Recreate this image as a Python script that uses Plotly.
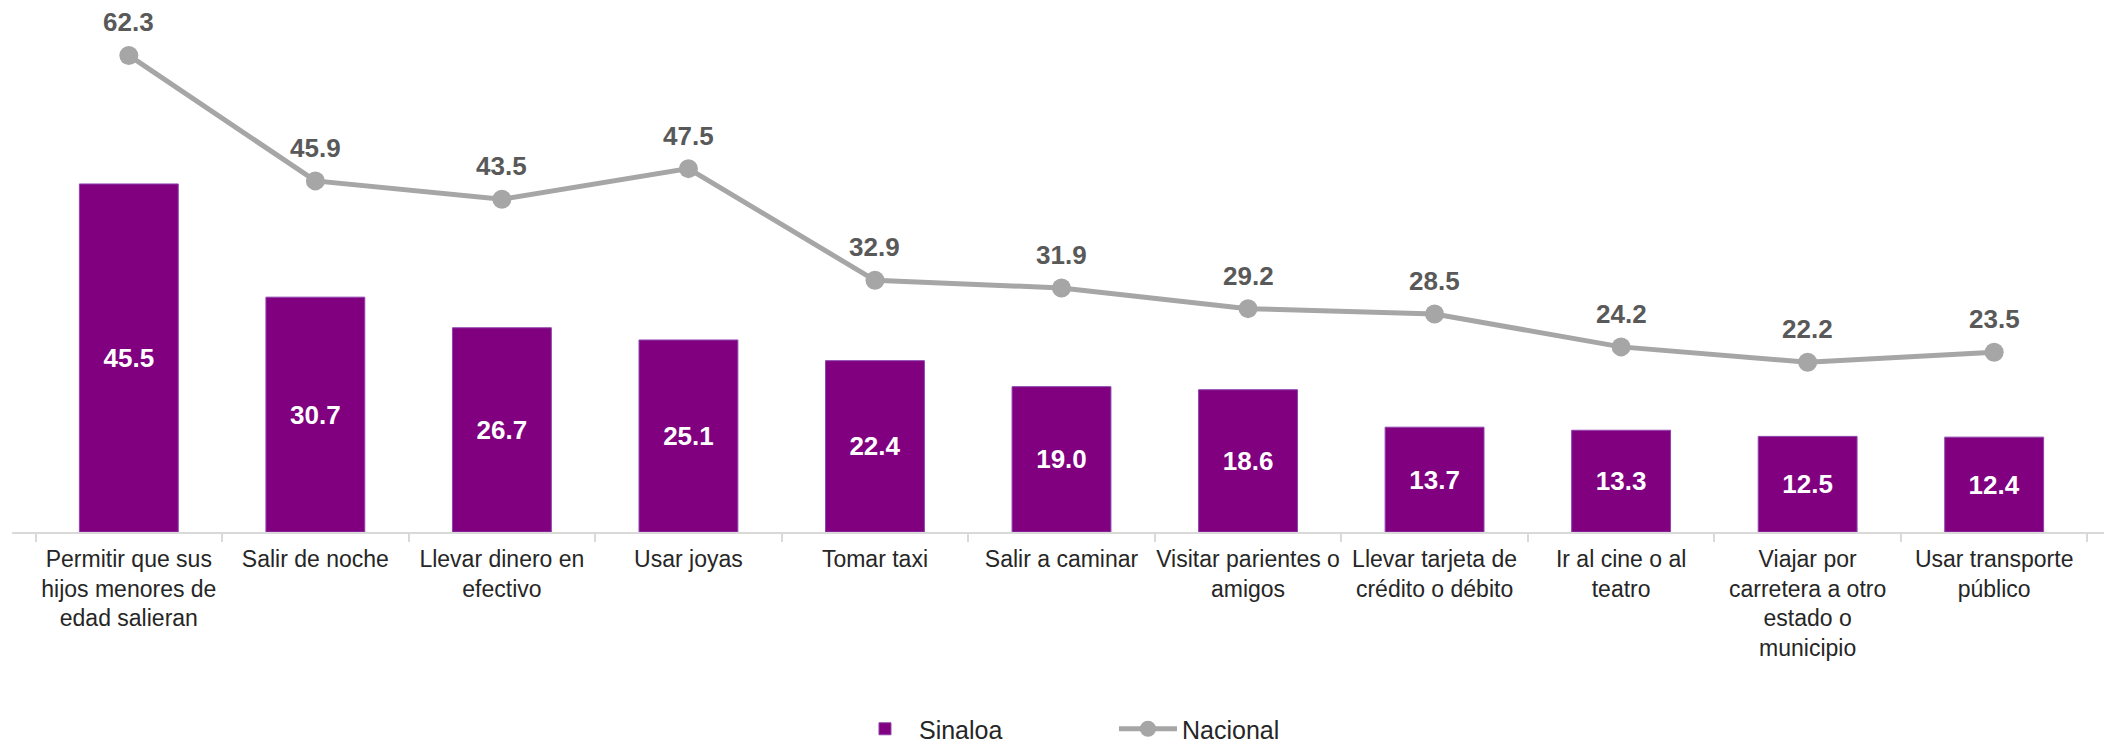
import plotly.graph_objects as go

categories = [
    "Permitir que sus<br>hijos menores de<br>edad salieran",
    "Salir de noche",
    "Llevar dinero en<br>efectivo",
    "Usar joyas",
    "Tomar taxi",
    "Salir a caminar",
    "Visitar parientes o<br>amigos",
    "Llevar tarjeta de<br>crédito o débito",
    "Ir al cine o al<br>teatro",
    "Viajar por<br>carretera a otro<br>estado o<br>municipio",
    "Usar transporte<br>público",
]
sinaloa = [45.5, 30.7, 26.7, 25.1, 22.4, 19.0, 18.6, 13.7, 13.3, 12.5, 12.4]
nacional = [62.3, 45.9, 43.5, 47.5, 32.9, 31.9, 29.2, 28.5, 24.2, 22.2, 23.5]

FONT = "Liberation Sans, Arial, sans-serif"
PURPLE = "#800080"
GRAY = "#A6A6A6"

fig = go.Figure()
fig.add_trace(go.Bar(
    x=categories, y=sinaloa, name="Sinaloa",
    marker=dict(color=PURPLE, line=dict(color="#8E44AD", width=1)),
    texttemplate="<b>%{y:.1f}</b>", textposition="inside",
    insidetextanchor="middle", textangle=0, constraintext="none",
    textfont=dict(family=FONT, size=26, color="white"),
))
fig.add_trace(go.Scatter(
    x=categories, y=nacional, name="Nacional", mode="lines+markers",
    line=dict(color=GRAY, width=5),
    marker=dict(color=GRAY, size=19),
))
for c, v in zip(categories, nacional):
    fig.add_annotation(
        x=c, y=v, text="<b>%.1f</b>" % v, showarrow=False, yshift=33,
        borderpad=0,
        font=dict(family=FONT, size=26, color="#595959"),
    )

fig.update_layout(
    width=2104, height=736,
    margin=dict(l=4, r=1, t=0, b=212, autoexpand=False),
    paper_bgcolor="white", plot_bgcolor="white",
    bargap=0.47,
    showlegend=True,
    legend=dict(
        orientation="h", x=0.525, xanchor="center", y=-0.376, yanchor="middle",
        font=dict(family=FONT, size=25, color="#262626"),
        itemwidth=58, entrywidth=190,
    ),
    font=dict(family=FONT),
)
fig.update_xaxes(
    type="category", tickangle=0, automargin=False,
    showline=True, linecolor="#D9D9D9", linewidth=2,
    ticks="outside", tickson="boundaries", ticklen=8,
    tickcolor="#D9D9D9", tickwidth=2, ticklabelstandoff=5,
    tickfont=dict(family=FONT, size=23, color="#262626"),
    showgrid=False,
)
fig.update_yaxes(range=[0, 68.5], visible=False, showgrid=False)

fig.write_html("out.html")
